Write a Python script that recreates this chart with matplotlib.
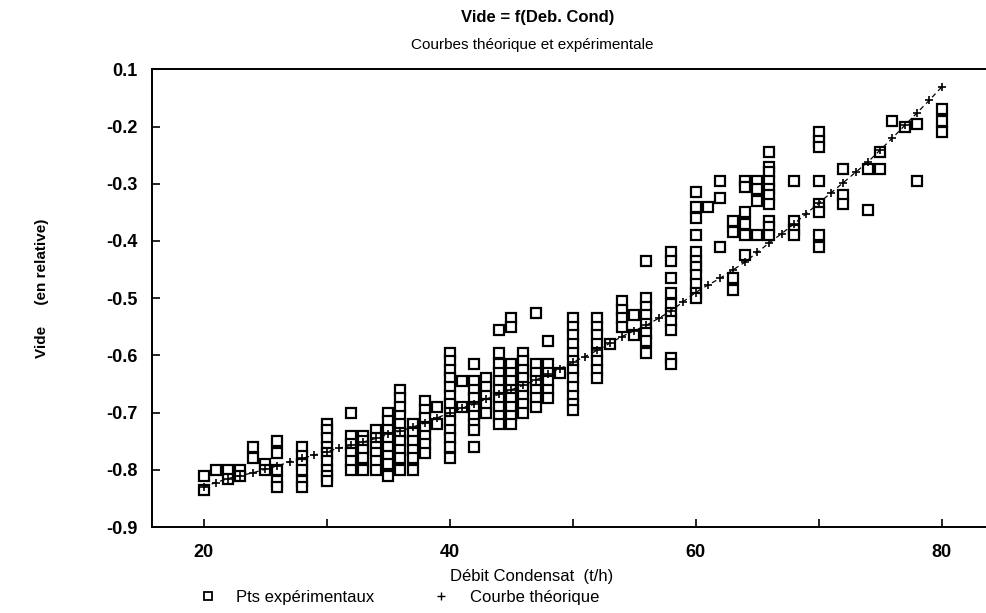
import matplotlib

matplotlib.use("Agg")
import matplotlib.pyplot as plt
from matplotlib.lines import Line2D

plt.rcParams["font.family"] = ["Liberation Sans", "DejaVu Sans"]

# experimental points, grouped by condensate flow column (t/h)
col_x = [20, 21, 22, 23, 24, 25, 26, 28, 30, 32, 33, 34, 35, 36, 37, 38, 39, 40,
         41, 42, 43, 44, 45, 46, 47, 48, 49, 50, 52, 53, 54, 55, 56, 58, 60, 61,
         62, 63, 64, 65, 66, 68, 70, 72, 74, 75, 76, 77, 78, 80]
col_y = [
    [-0.81, -0.835],
    [-0.80],
    [-0.80, -0.815],
    [-0.80, -0.81],
    [-0.76, -0.78],
    [-0.79, -0.80],
    [-0.75, -0.77, -0.80, -0.82, -0.83],
    [-0.76, -0.775, -0.79, -0.80, -0.82, -0.83],
    [-0.72, -0.73, -0.745, -0.76, -0.77, -0.785, -0.80, -0.81, -0.82],
    [-0.70, -0.74, -0.755, -0.77, -0.785, -0.80],
    [-0.74, -0.75, -0.765, -0.78, -0.80],
    [-0.73, -0.745, -0.76, -0.77, -0.785, -0.80],
    [-0.70, -0.715, -0.73, -0.745, -0.76, -0.775, -0.79, -0.81],
    [-0.66, -0.675, -0.69, -0.705, -0.72, -0.735, -0.75, -0.765, -0.78, -0.80],
    [-0.72, -0.735, -0.75, -0.765, -0.78, -0.80],
    [-0.68, -0.695, -0.71, -0.725, -0.74, -0.755, -0.77],
    [-0.69, -0.72],
    [-0.595, -0.61, -0.625, -0.64, -0.655, -0.67, -0.685, -0.70, -0.715, -0.73,
     -0.745, -0.76, -0.78],
    [-0.645, -0.69],
    [-0.615, -0.645, -0.66, -0.675, -0.69, -0.705, -0.72, -0.73, -0.76],
    [-0.64, -0.655, -0.67, -0.685, -0.70],
    [-0.555, -0.595, -0.615, -0.63, -0.645, -0.66, -0.675, -0.69, -0.705, -0.72],
    [-0.535, -0.55, -0.615, -0.63, -0.645, -0.66, -0.675, -0.69, -0.705, -0.72],
    [-0.595, -0.61, -0.625, -0.64, -0.655, -0.67, -0.685, -0.70],
    [-0.525, -0.615, -0.63, -0.645, -0.66, -0.675, -0.69],
    [-0.575, -0.615, -0.63, -0.645, -0.66, -0.675],
    [-0.63],
    [-0.535, -0.55, -0.565, -0.58, -0.595, -0.61, -0.625, -0.64, -0.655, -0.67,
     -0.685, -0.695],
    [-0.535, -0.55, -0.565, -0.58, -0.595, -0.61, -0.625, -0.64],
    [-0.58],
    [-0.505, -0.52, -0.535, -0.55],
    [-0.53, -0.565],
    [-0.435, -0.50, -0.515, -0.53, -0.545, -0.56, -0.575, -0.595],
    [-0.42, -0.435, -0.465, -0.49, -0.51, -0.525, -0.54, -0.555, -0.605, -0.615],
    [-0.315, -0.34, -0.36, -0.39, -0.42, -0.435, -0.445, -0.46, -0.475, -0.49, -0.50],
    [-0.34],
    [-0.295, -0.325, -0.41],
    [-0.365, -0.385, -0.465, -0.485],
    [-0.295, -0.305, -0.35, -0.37, -0.39, -0.425],
    [-0.295, -0.31, -0.33, -0.39],
    [-0.245, -0.27, -0.28, -0.295, -0.31, -0.32, -0.335, -0.365, -0.375, -0.39],
    [-0.295, -0.365, -0.38, -0.39],
    [-0.21, -0.225, -0.235, -0.295, -0.335, -0.35, -0.39, -0.41],
    [-0.275, -0.32, -0.335],
    [-0.275, -0.345],
    [-0.245, -0.275],
    [-0.19],
    [-0.20],
    [-0.195, -0.295],
    [-0.17, -0.19, -0.21],
]

# theoretical curve
theo_x = [20, 21, 22, 23, 24, 25, 26, 27, 28, 29, 30, 31, 32, 33, 34, 35, 36, 37,
          38, 39, 40, 41, 42, 43, 44, 45, 46, 47, 48, 49, 50, 51, 52, 53, 54, 55,
          56, 57, 58, 59, 60, 61, 62, 63, 64, 65, 66, 67, 68, 69, 70, 71, 72, 73,
          74, 75, 76, 77, 78, 79, 80]
theo_y = [-0.830, -0.822, -0.815, -0.810, -0.805, -0.799, -0.793, -0.786, -0.780,
          -0.774, -0.768, -0.762, -0.757, -0.751, -0.745, -0.738, -0.732, -0.725,
          -0.718, -0.709, -0.700, -0.692, -0.685, -0.676, -0.668, -0.660, -0.652,
          -0.643, -0.633, -0.623, -0.612, -0.602, -0.591, -0.579, -0.567, -0.557,
          -0.547, -0.535, -0.522, -0.506, -0.490, -0.477, -0.465, -0.451, -0.437,
          -0.420, -0.403, -0.387, -0.370, -0.352, -0.334, -0.316, -0.298, -0.280,
          -0.262, -0.241, -0.220, -0.198, -0.176, -0.154, -0.131]

y_ticks = [-0.1, -0.2, -0.3, -0.4, -0.5, -0.6, -0.7, -0.8, -0.9]
y_labels = ["0.1", "-0.2", "-0.3", "-0.4", "-0.5", "-0.6", "-0.7", "-0.8", "-0.9"]
x_ticks = [20, 40, 60, 80]

fig = plt.figure(figsize=(9.86, 6.13), dpi=100)
ax = fig.add_axes([0.154, 0.140, 0.846, 0.747])

for cx, ys in zip(col_x, col_y):
    ax.plot([cx] * len(ys), ys, ls="none", marker="s", ms=7, mfc="white",
            mec="black", mew=1.6, zorder=2)

ax.plot(theo_x, theo_y, color="black", ls=(0, (4, 3)), lw=0.9,
        marker="+", ms=5.5, mew=1.2, zorder=3)

ax.set_xlim(15.8, 83.6)
ax.set_ylim(-0.9, -0.1)
ax.set_xticks(x_ticks)
ax.set_xticks([30, 50, 70], minor=True)
ax.set_xticklabels([str(v) for v in x_ticks], fontsize=13, fontweight="bold")
ax.set_yticks(y_ticks)
ax.set_yticklabels(y_labels, fontsize=13, fontweight="bold")
ax.tick_params(axis="both", which="both", direction="in", length=6, width=1.2)
ax.tick_params(axis="y", pad=10)
ax.tick_params(axis="x", pad=12)
ax.spines["right"].set_visible(False)
for s in ["left", "bottom", "top"]:
    ax.spines[s].set_linewidth(1.4)

fig.text(0.545, 0.971, "Vide = f(Deb. Cond)", ha="center", va="center",
         fontsize=12, fontweight="bold")
fig.text(0.540, 0.927, "Courbes théorique et expérimentale", ha="center",
         va="center", fontsize=11)
fig.text(0.539, 0.060, "Débit Condensat  (t/h)", ha="center", va="center",
         fontsize=12)
fig.text(0.043, 0.530, "Vide     (en relative)", ha="center", va="center",
         rotation=90, fontsize=11, fontweight="bold")

handles = [
    Line2D([], [], ls="none", marker="s", ms=6, mfc="white", mec="black", mew=1.3),
    Line2D([], [], ls="none", marker="+", ms=6, mec="black", mew=1.0),
]
fig.legend(handles, ["Pts expérimentaux", "Courbe théorique"], ncol=2,
           loc="center", bbox_to_anchor=(0.405, 0.026), frameon=False,
           fontsize=12, handletextpad=1.2, columnspacing=3.5, handlelength=1.0)

fig.savefig("out.png", dpi=100)
